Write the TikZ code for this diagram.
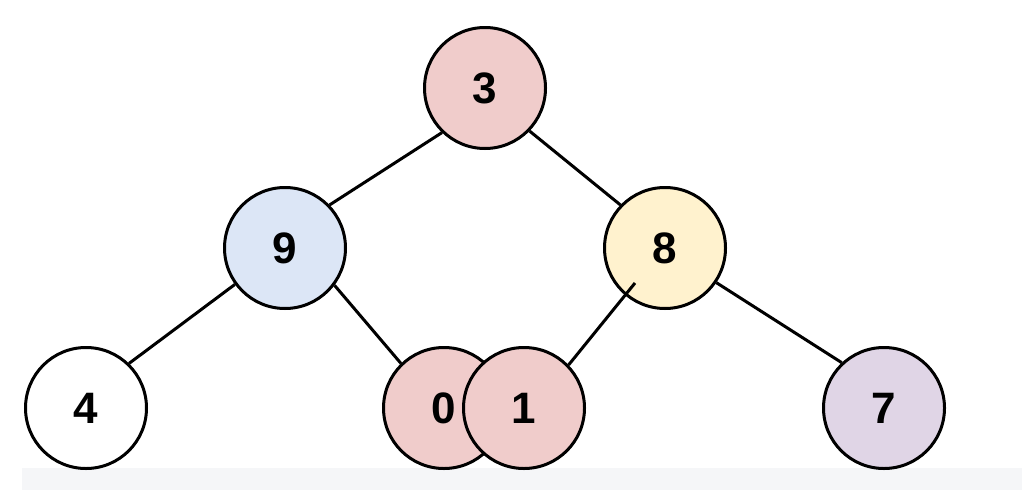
\documentclass[tikz,border=0pt]{standalone}
\usepackage{fontspec}
\setmainfont{Liberation Sans}
\begin{document}
\begin{tikzpicture}[x=1pt,y=-1pt,
  treenode/.style={circle,draw=black,line width=3pt,minimum size=121pt,inner sep=0pt,
    font=\fontsize{44}{44}\selectfont\bfseries},
  edge/.style={draw=black,line width=3pt}]
\definecolor{pinkfill}{HTML}{F0CCCB}
\definecolor{bluefill}{HTML}{DCE6F6}
\definecolor{yellowfill}{HTML}{FFF2CE}
\definecolor{purplefill}{HTML}{E0D5E6}
\definecolor{bandgray}{HTML}{F5F6F8}
\useasboundingbox (0,0) rectangle (1022,490);
% light strip along the bottom
\fill[bandgray] (22,468) rectangle (1022,490);
% tree nodes
\node[treenode,fill=pinkfill] (n3) at (485,88) {3};
\node[treenode,fill=bluefill] (n9) at (285,248) {9};
\node[treenode,fill=yellowfill] (n8) at (665,248) {8};
\node[treenode,fill=white] (n4) at (86,408) {4};
\node[treenode,fill=purplefill] (n7) at (884,408) {7};
\coordinate (e8) at (635,283);
% edges
\draw[edge] (n3.226) -- (n9.44);
\draw[edge] (n3.316) -- (n8.136);
\draw[edge] (n9.216) -- (n4.46);
\draw[edge] (n8.326) -- (n7.133);
\node[treenode,fill=pinkfill] (n0) at (444,408) {0};
\draw[edge] (n9.323) -- (n0.134);
\node[treenode,fill=pinkfill] (n1) at (524,408) {1};
\draw[edge] (n1.44) -- (e8);
\end{tikzpicture}
\end{document}
